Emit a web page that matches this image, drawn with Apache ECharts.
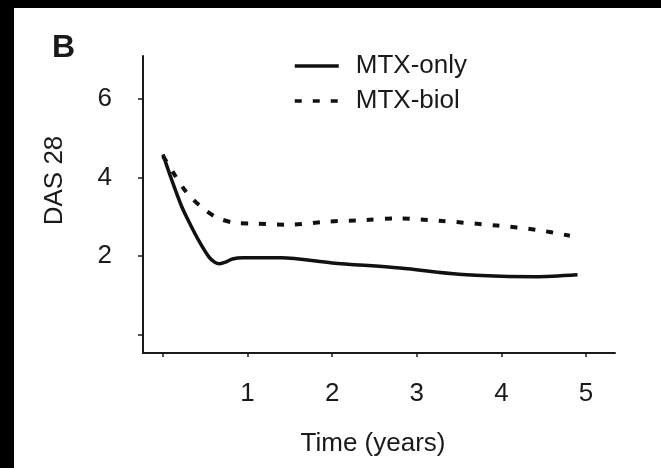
<!DOCTYPE html>
<html>
<head>
<meta charset="utf-8">
<script src="https://cdn.jsdelivr.net/npm/echarts@6/dist/echarts.min.js"></script>
<style>
    html, body { margin: 0; padding: 0; background: #000; }
    #chart { position: absolute; left: 14px; top: 8px; width: 647px; height: 460px; background: #fff; }
</style>
</head>
<body>
<div id="chart"></div>
<script>
// values
var mtxOnlyTime = [0, 0.11, 0.22, 0.32, 0.43, 0.54, 0.61, 0.67, 0.74, 0.82, 0.95, 1.4, 2.0, 2.8, 3.5, 4.0, 4.4, 4.9];
var mtxOnlyDas = [4.59, 3.9, 3.27, 2.82, 2.37, 1.99, 1.85, 1.81, 1.85, 1.93, 1.96, 1.96, 1.83, 1.70, 1.54, 1.49, 1.48, 1.53];
var mtxBiolTime = [0, 0.12, 0.28, 0.46, 0.64, 0.85, 1.06, 1.5, 1.94, 2.4, 2.75, 3.27, 3.95, 4.42, 4.81];
var mtxBiolDas = [4.55, 4.13, 3.62, 3.24, 2.98, 2.85, 2.83, 2.80, 2.88, 2.92, 2.96, 2.90, 2.78, 2.67, 2.52];
var xTicks = [0, 1, 2, 3, 4, 5];
var xLabels = [1, 2, 3, 4, 5];
var yTicks = [0, 2, 4, 6];
var yLabels = [2, 4, 6];

function pairs(xs, ys) {
    var out = [];
    for (var i = 0; i < xs.length; i++) {
        out.push([xs[i], ys[i]]);
    }
    return out;
}

var font = '"Liberation Sans", Arial, sans-serif';
var ink = '#1a1a1a';

var myChart = echarts.init(document.getElementById('chart'));
var option = {
    animation: false,
    title: {
        text: 'B',
        left: 33,
        top: 19,
        textStyle: { fontFamily: font, fontSize: 32, fontWeight: 'bold', color: ink }
    },
    legend: {
        orient: 'vertical',
        left: 274,
        top: 40,
        itemWidth: 44,
        itemHeight: 26,
        itemGap: 9,
        itemStyle: { opacity: 0 },
        lineStyle: { width: 3.5 },
        textStyle: { fontFamily: font, fontSize: 26, color: ink, padding: [0, 0, 0, 12] },
        data: ['MTX-only', 'MTX-biol']
    },
    grid: { left: 129, top: 48, right: 46, bottom: 115 },
    xAxis: {
        type: 'value',
        min: -0.236,
        max: 5.343,
        name: 'Time (years)',
        nameLocation: 'middle',
        nameGap: 78,
        nameTextStyle: { fontFamily: font, fontSize: 26, color: ink, padding: [0, 12, 0, 0] },
        axisLine: { onZero: false, lineStyle: { color: ink, width: 2 } },
        axisTick: { show: true, length: 4, customValues: xTicks, lineStyle: { color: ink, width: 1.5 } },
        axisLabel: { customValues: xLabels, margin: 28, fontFamily: font, fontSize: 26, color: ink },
        splitLine: { show: false }
    },
    yAxis: {
        type: 'value',
        min: -0.46,
        max: 7.09,
        name: 'DAS 28',
        nameLocation: 'middle',
        nameRotate: 90,
        nameGap: 75,
        nameTextStyle: { fontFamily: font, fontSize: 26, color: ink, padding: [0, 0, 0, 48] },
        axisLine: { show: true, onZero: false, lineStyle: { color: ink, width: 2 } },
        axisTick: { show: true, length: 5, customValues: yTicks, lineStyle: { color: ink, width: 1.5 } },
        axisLabel: { customValues: yLabels, margin: 31, fontFamily: font, fontSize: 26, color: ink },
        splitLine: { show: false }
    },
    series: [{
        name: 'MTX-only',
        type: 'line',
        smooth: 0.3,
        symbol: 'none',
        lineStyle: { color: '#111', width: 3.5 },
        itemStyle: { color: '#111' },
        data: pairs(mtxOnlyTime, mtxOnlyDas)
    }, {
        name: 'MTX-biol',
        type: 'line',
        smooth: 0.3,
        symbol: 'none',
        lineStyle: { color: '#111', width: 4, type: [7, 11] },
        itemStyle: { color: '#111' },
        data: pairs(mtxBiolTime, mtxBiolDas)
    }]
};
myChart.setOption(option);
</script>
</body>
</html>
